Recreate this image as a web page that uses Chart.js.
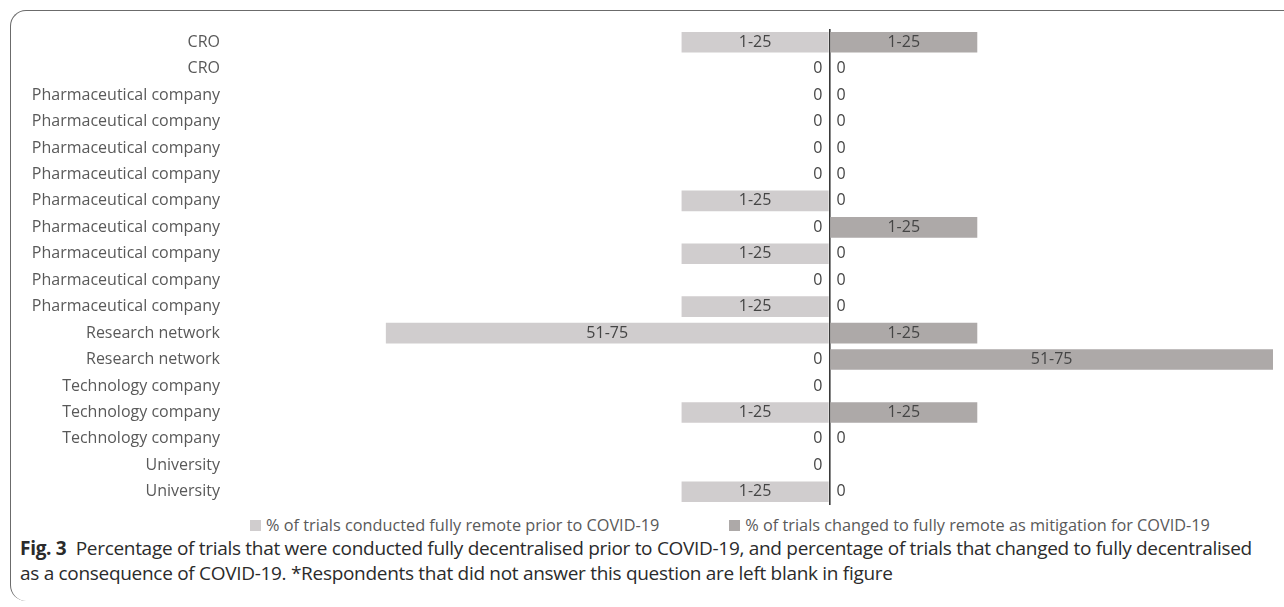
<!DOCTYPE html>
<html>
<head>
<meta charset="utf-8">
<script src="https://cdn.jsdelivr.net/npm/chart.js@4.4.1/dist/chart.umd.min.js"></script>
<style>
  html, body { margin: 0; padding: 0; background: #fff; }
  body { width: 1284px; height: 607px; position: relative; overflow: hidden; font-family: "Open Sans", sans-serif; }
  #frame {
    position: absolute; left: 10px; top: 10px; width: 1300px; height: 590px;
    border-top: 1.5px solid #6b6b6b; border-left: 1.5px solid #6b6b6b;
    border-top-left-radius: 16px; border-bottom-left-radius: 16px;
  }
  #wrap { position: absolute; left: 0; top: 0; width: 1284px; height: 512px; }
  #legend {
    position: absolute; left: 250px; top: 514px; display: flex; gap: 70px;
    font-size: 16.3px; line-height: 22px; color: #595959; white-space: nowrap;
  }
  #legend .item { display: flex; align-items: center; }
  #legend .box { width: 11px; height: 11px; margin-right: 5px; }
  #caption {
    position: absolute; left: 20px; top: 536px; width: 1250px;
    font-size: 19px; line-height: 25px; color: #2b2b2b; letter-spacing: -0.3px;
  }
</style>
</head>
<body>
<div id="frame"></div>
<div id="wrap"><canvas id="chart"></canvas></div>
<div id="legend"></div>
<div id="caption"><b>Fig. 3</b>&nbsp; Percentage of trials that were conducted fully decentralised prior to COVID-19, and percentage of trials that changed to fully decentralised as a consequence of COVID-19. *Respondents that did not answer this question are left blank in figure</div>
<script>
// Diverging bar chart: prior share drawn to the left, COVID-19 change to the right.

const categories = [
  'CRO', 'CRO',
  'Pharmaceutical company', 'Pharmaceutical company', 'Pharmaceutical company',
  'Pharmaceutical company', 'Pharmaceutical company', 'Pharmaceutical company',
  'Pharmaceutical company', 'Pharmaceutical company', 'Pharmaceutical company',
  'Research network', 'Research network',
  'Technology company', 'Technology company', 'Technology company',
  'University', 'University'
];

// answer bands, in order; bar length = position in this list
const bandScale = ['0', '1-25', '26-50', '51-75', '76-100'];

// null = respondent did not answer
const priorBands = ['1-25', '0', '0', '0', '0', '0', '1-25', '0', '1-25', '0', '1-25', '51-75', '0', '0', '1-25', '0', '0', '1-25'];
const mitigationBands = ['1-25', '0', '0', '0', '0', '0', '0', '1-25', '0', '0', '0', '1-25', '51-75', null, '1-25', '0', null, '0'];

const seriesNames = [
  '% of trials conducted fully remote prior to COVID-19',
  '% of trials changed to fully remote as  mitigation for COVID-19'
];

const LIGHT = '#d0cdce';
const DARK = '#ada9a8';
const TEXT = '#595959';
const FONT = '"Open Sans", sans-serif';

const toLevel = (b, sign) => b === null ? null : sign * bandScale.indexOf(b) || 0;

// draws the band text inside each bar, or "0" next to the axis
const bandLabels = {
  id: 'bandLabels',
  afterDatasetsDraw(chart) {
    const ctx = chart.ctx;
    const zeroX = chart.scales.x.getPixelForValue(0);
    ctx.save();
    ctx.font = '16px ' + FONT;
    ctx.fillStyle = '#454545';
    ctx.textBaseline = 'middle';
    chart.data.datasets.forEach((ds, di) => {
      const meta = chart.getDatasetMeta(di);
      ds.bands.forEach((b, i) => {
        if (b === null) return;
        const el = meta.data[i];
        if (b === '0') {
          ctx.textAlign = di === 0 ? 'right' : 'left';
          ctx.fillText(b, di === 0 ? zeroX - 7 : zeroX + 7, el.y);
        } else {
          ctx.textAlign = 'center';
          ctx.fillText(b, (el.x + el.base) / 2, el.y);
        }
      });
    });
    ctx.restore();
  }
};

const chart = new Chart(document.getElementById('chart').getContext('2d'), {
  type: 'bar',
  data: {
    labels: categories,
    datasets: [
      {label: seriesNames[0], bands: priorBands, data: priorBands.map(b => toLevel(b, -1)), backgroundColor: LIGHT},
      {label: seriesNames[1], bands: mitigationBands, data: mitigationBands.map(b => toLevel(b, 1)), backgroundColor: DARK}
    ]
  },
  options: {
    indexAxis: 'y',
    responsive: true,
    maintainAspectRatio: false,
    animation: false,
    barPercentage: 0.78,
    categoryPercentage: 1,
    layout: {padding: {top: 29, right: 11, bottom: 7, left: 0}},
    plugins: {legend: {display: false}, tooltip: {enabled: false}},
    scales: {
      x: {
        stacked: true,
        min: -4,
        max: 3,
        ticks: {display: false, stepSize: 1},
        border: {display: false},
        grid: {
          drawTicks: false,
          color: c => c.tick && c.tick.value === 0 ? '#3a3a3a' : 'rgba(0,0,0,0)',
          lineWidth: 1.6
        },
        afterFit: axis => { axis.height = 0; }
      },
      y: {
        stacked: true,
        border: {display: false},
        grid: {display: false, drawTicks: false},
        ticks: {color: TEXT, font: {family: FONT, size: 16}, padding: 18},
        // fixed label column; drop the half-label padding so rows fill the plot
        afterFit: axis => {
          axis.width = 238;
          axis.paddingTop = 0;
          axis.paddingBottom = 0;
        }
      }
    }
  },
  plugins: [bandLabels]
});

// legend as html so the wide Excel-style spacing can be kept
const legendEl = document.getElementById('legend');
chart.data.datasets.forEach(ds => {
  const item = document.createElement('div');
  item.className = 'item';
  const box = document.createElement('span');
  box.className = 'box';
  box.style.background = ds.backgroundColor;
  const txt = document.createElement('span');
  txt.textContent = ds.label;
  item.appendChild(box);
  item.appendChild(txt);
  legendEl.appendChild(item);
});
</script>
</body>
</html>
